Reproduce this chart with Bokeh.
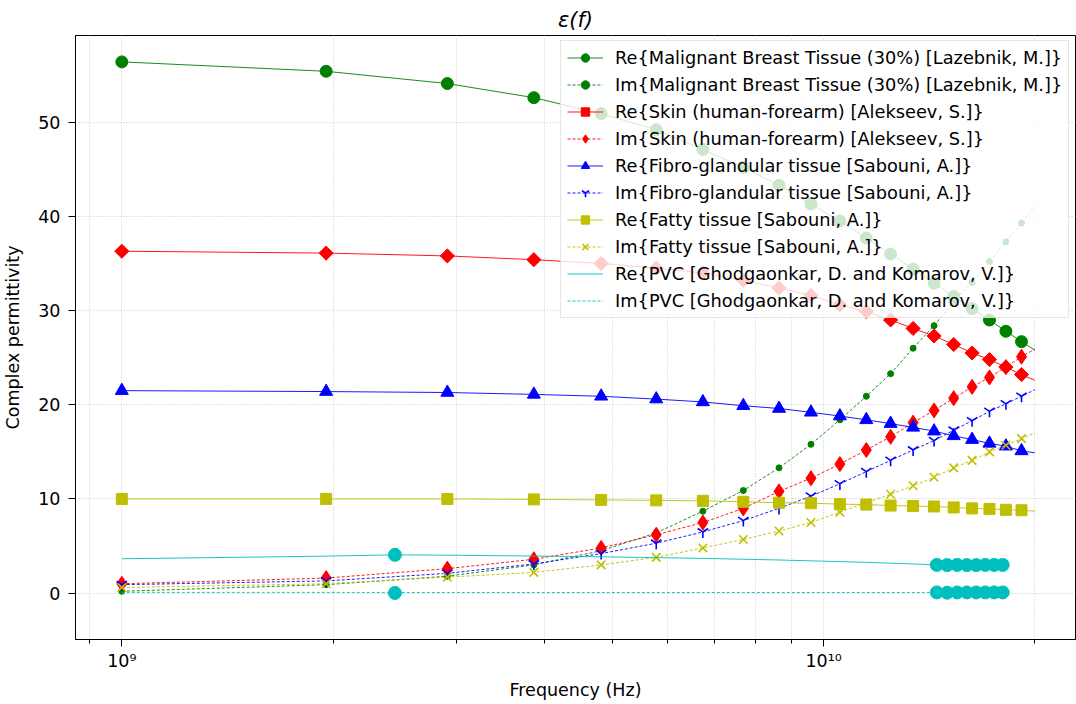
import math
from bokeh.plotting import figure
from bokeh.models import Range1d, FixedTicker
from bokeh.embed import file_html
from bokeh.resources import INLINE

# ---------------- data ----------------
freq_ghz = [1.0, 1.955, 2.91, 3.865, 4.82, 5.775, 6.73, 7.685, 8.64, 9.595,
            10.55, 11.505, 12.46, 13.415, 14.37, 15.325, 16.28, 17.235, 18.19, 19.145, 20.0]

mbt_re = [56.4, 55.4, 54.1, 52.6, 50.9, 49.2, 47.1, 45.2, 43.3, 41.3,
          39.5, 37.7, 36.0, 34.4, 32.9, 31.5, 30.2, 29.0, 27.8, 26.7, 25.8]
mbt_im = [0.2, 0.9, 1.8, 3.0, 4.5, 6.4, 8.7, 10.9, 13.3, 15.8,
          18.4, 20.9, 23.3, 26.0, 28.4, 30.9, 33.0, 35.2, 37.3, 39.3, 41.0]
skin_re = [36.3, 36.1, 35.8, 35.4, 35.0, 34.5, 34.0, 33.2, 32.4, 31.6,
           30.6, 29.9, 29.0, 28.1, 27.3, 26.4, 25.5, 24.8, 24.0, 23.2, 22.6]
skin_im = [1.0, 1.6, 2.6, 3.6, 4.8, 6.2, 7.5, 9.0, 10.8, 12.2,
           13.7, 15.2, 16.6, 18.1, 19.4, 20.7, 21.9, 22.9, 24.0, 25.1, 25.9]
fibro_re = [21.5, 21.4, 21.3, 21.1, 20.9, 20.6, 20.3, 19.9, 19.6, 19.2,
            18.8, 18.4, 18.0, 17.6, 17.2, 16.7, 16.3, 15.9, 15.6, 15.1, 14.9]
fibro_im = [0.9, 1.3, 2.1, 3.1, 4.2, 5.3, 6.5, 7.7, 9.0, 10.3,
            11.6, 12.9, 14.1, 15.2, 16.2, 17.3, 18.3, 19.3, 20.1, 20.9, 21.6]
fatty_re = [10.0, 10.0, 10.0, 9.95, 9.9, 9.85, 9.8, 9.7, 9.6, 9.55,
            9.45, 9.4, 9.3, 9.25, 9.2, 9.1, 9.0, 8.95, 8.85, 8.8, 8.7]
fatty_im = [0.6, 1.0, 1.7, 2.2, 3.0, 3.8, 4.8, 5.7, 6.6, 7.5,
            8.6, 9.6, 10.5, 11.4, 12.3, 13.3, 14.1, 15.0, 15.7, 16.4, 17.0]

pvc_line_ghz = [1.0, 1.955, 2.45, 2.91, 3.865, 4.82, 5.775, 6.73, 7.685, 8.64, 9.595,
                10.55, 11.505, 12.46, 13.415, 14.5, 15.0, 15.5, 16.0, 16.5, 17.0, 17.5, 18.0]
pvc_line_re = [3.65, 3.93, 4.07, 4.03, 3.94, 3.86, 3.77, 3.69, 3.60, 3.52, 3.43,
               3.35, 3.27, 3.18, 3.10, 3.0, 2.98, 3.0, 2.98, 2.98, 3.0, 3.0, 3.0]
pvc_line_im = [0.08, 0.08, 0.07, 0.07, 0.07, 0.07, 0.07, 0.07, 0.07, 0.07, 0.07,
               0.07, 0.07, 0.07, 0.07, 0.08, 0.05, 0.08, 0.08, 0.08, 0.08, 0.08, 0.08]
pvc_pts_ghz = [2.45, 14.5, 15.0, 15.5, 16.0, 16.5, 17.0, 17.5, 18.0]
pvc_pts_re = [4.07, 3.0, 2.98, 3.0, 2.98, 2.98, 3.0, 3.0, 3.0]
pvc_pts_im = [0.02, 0.08, 0.05, 0.08, 0.08, 0.08, 0.08, 0.08, 0.08]

x_major = [1e9, 1e10]
x_minor = [8e8, 9e8, 2e9, 3e9, 4e9, 5e9, 6e9, 7e9, 8e9, 9e9, 2e10]
y_ticks = [0, 10, 20, 30, 40, 50]

# ---------------------------------------------------------------
FONT = "DejaVu Sans"
FS = "17.5px"

f_hz = [f * 1e9 for f in freq_ghz]
fm = f_hz[:-1]  # marker positions (line extends one step further)

p = figure(width=1076, height=704, x_axis_type="log",
           output_backend="svg", toolbar_location=None,
           x_range=Range1d(10 ** 8.934, 10 ** 10.359),
           y_range=Range1d(-4.92, 59.2),
           min_border_left=73, min_border_right=1,
           min_border_top=35, min_border_bottom=65,
           background_fill_color="white", border_fill_color="white")

p.title.text = "ε(f)"
p.title.align = "center"
p.title.text_font = FONT
p.title.text_font_size = "21px"
p.title.text_font_style = "italic"
p.title.text_color = "black"
p.title.standoff = 8
p.title.text_line_height = 1.0

p.outline_line_color = "black"
p.outline_line_width = 1
p.outline_line_alpha = 1

# axes
p.xaxis.ticker = FixedTicker(ticks=x_major, minor_ticks=x_minor)
p.xaxis.major_label_overrides = {1e9: "10⁹", 1e10: "10¹⁰"}
p.yaxis.ticker = FixedTicker(ticks=y_ticks)
p.xaxis.axis_label = "Frequency (Hz)"
p.yaxis.axis_label = "Complex permittivity"
for ax in (p.xaxis[0], p.yaxis[0]):
    ax.axis_line_color = "black"
    ax.major_tick_line_color = "black"
    ax.minor_tick_line_color = "black"
    ax.major_tick_out = 7
    ax.major_tick_in = 0
    ax.minor_tick_out = 4
    ax.minor_tick_in = 0
    ax.major_label_standoff = 8
    ax.major_label_text_font = FONT
    ax.major_label_text_font_size = FS
    ax.major_label_text_color = "black"
    ax.axis_label_text_font = FONT
    ax.axis_label_text_font_size = FS
    ax.axis_label_text_font_style = "normal"
    ax.axis_label_text_color = "black"
    ax.axis_label_standoff = 10
p.xaxis.major_label_standoff = 4
p.xaxis.axis_label_standoff = 6
p.yaxis.axis_label_standoff = 12
p.yaxis.minor_tick_line_color = None

# grids
for g in (p.xgrid[0], p.ygrid[0]):
    g.grid_line_color = "#c8c8c8"
    g.grid_line_dash = "1 2"
    g.grid_line_width = 1
p.xgrid.minor_grid_line_color = "#c8c8c8"
p.xgrid.minor_grid_line_dash = "1 2"

GREEN, RED, BLUE, YEL, CYAN = "#008000", "#ff0000", "#0000ff", "#bfbf00", "#00bfbf"
LW = 0.9
DASH = "3 2"

def series(vals, color, label, marker, size, dashed, angle=0.0, mlw=1.0):
    p.line(f_hz, vals, color=color, line_width=LW,
           line_dash=DASH if dashed else "solid", legend_label=label)
    p.scatter(fm, vals[:-1], marker=marker, size=size, color=color,
              angle=angle, line_width=mlw, legend_label=label)

series(mbt_re, GREEN, "Re{Malignant Breast Tissue (30%) [Lazebnik, M.]}", "circle", 12, False)
series(mbt_im, GREEN, "Im{Malignant Breast Tissue (30%) [Lazebnik, M.]}", "circle", 6, True)
series(skin_re, RED, "Re{Skin (human-forearm) [Alekseev, S.]}", "square", 10, False, angle=math.pi / 4)
series(skin_im, RED, "Im{Skin (human-forearm) [Alekseev, S.]}", "diamond", 15, True)
series(fibro_re, BLUE, "Re{Fibro-glandular tissue [Sabouni, A.]}", "triangle", 13, False)
series(fibro_im, BLUE, "Im{Fibro-glandular tissue [Sabouni, A.]}", "y", 12, True, mlw=1.6)
series(fatty_re, YEL, "Re{Fatty tissue [Sabouni, A.]}", "square", 11, False)
series(fatty_im, YEL, "Im{Fatty tissue [Sabouni, A.]}", "x", 12, True, mlw=1.6)

pvc_hz = [f * 1e9 for f in pvc_line_ghz]
pvc_pts_hz = [f * 1e9 for f in pvc_pts_ghz]
p.line(pvc_hz, pvc_line_re, color=CYAN, line_width=LW,
       legend_label="Re{PVC [Ghodgaonkar, D. and Komarov, V.]}")
p.line(pvc_hz, pvc_line_im, color=CYAN, line_width=LW, line_dash=DASH,
       legend_label="Im{PVC [Ghodgaonkar, D. and Komarov, V.]}")
p.scatter(pvc_pts_hz, pvc_pts_re, marker="circle", size=13, color=CYAN)
p.scatter(pvc_pts_hz, pvc_pts_im, marker="circle", size=13, color=CYAN)

# legend
lg = p.legend[0]
lg.location = (485, 321)
lg.padding = 6
lg.spacing = 6
lg.margin = 0
lg.label_height = 21
lg.glyph_height = 21
lg.glyph_width = 36
lg.label_standoff = 12
lg.label_text_font = FONT
lg.label_text_font_size = "17.8px"
lg.label_text_color = "black"
lg.border_line_color = "#cccccc"
lg.border_line_width = 1
lg.background_fill_color = "white"
lg.background_fill_alpha = 0.8

open("out.html", "w").write(file_html(p, INLINE))
